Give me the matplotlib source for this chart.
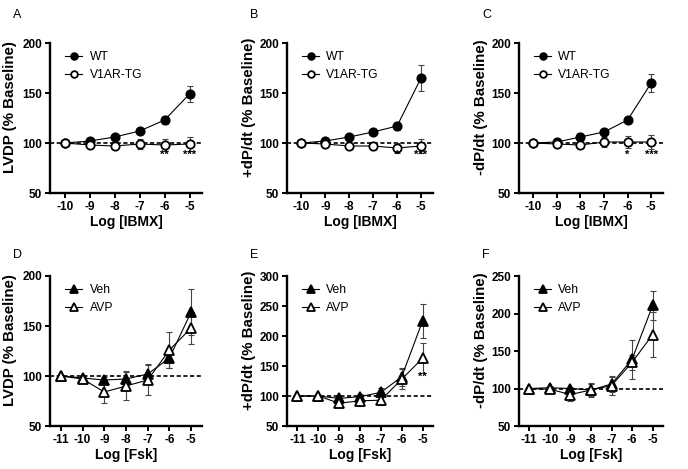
import matplotlib
matplotlib.use("Agg")
import matplotlib.pyplot as plt

plt.rcParams['font.family'] = ['Liberation Sans', 'DejaVu Sans']

# ---- data ----
x_ibmx = [-10, -9, -8, -7, -6, -5]
x_fsk = [-11, -10, -9, -8, -7, -6, -5]

# Panel A: LVDP
a_wt = [100, 102, 106, 112, 123, 149]
a_wt_err = [1, 1.5, 2, 2, 4, 8]
a_tg = [100, 98, 97, 99, 98, 99]
a_tg_err = [1, 2, 3, 5, 6, 7]
a_stars = ['', '', '', '', '**', '***']

# Panel B: +dP/dt
b_wt = [100, 102, 106, 111, 117, 165]
b_wt_err = [1, 1.5, 2, 2, 4, 13]
b_tg = [100, 99, 97, 97, 95, 97]
b_tg_err = [1, 2, 3, 4, 5, 7]
b_stars = ['', '', '', '', '*', '***']

# Panel C: -dP/dt
c_wt = [100, 101, 106, 111, 123, 160]
c_wt_err = [1, 3, 4, 2, 3, 9]
c_tg = [100, 99, 98, 101, 101, 101]
c_tg_err = [1, 2, 3, 5, 6, 7]
c_stars = ['', '', '', '', '*', '***']

# Panel D: LVDP (Fsk)
d_veh = [100, 98, 96, 97, 102, 118, 164]
d_veh_err = [1, 1, 3, 8, 10, 10, 23]
d_avp = [100, 97, 84, 90, 96, 126, 148]
d_avp_err = [1, 2, 11, 14, 15, 18, 16]

# Panel E: +dP/dt (Fsk)
e_veh = [100, 100, 96, 99, 106, 132, 225]
e_veh_err = [1, 2, 3, 4, 8, 15, 28]
e_avp = [100, 100, 88, 92, 93, 128, 163]
e_avp_err = [1, 2, 4, 8, 8, 17, 25]
e_stars = ['', '', '', '', '', '', '**']

# Panel F: -dP/dt (Fsk)
f_veh = [100, 101, 100, 98, 106, 139, 211]
f_veh_err = [1, 2, 2, 9, 10, 26, 19]
f_avp = [100, 99, 92, 98, 104, 135, 172]
f_avp_err = [1, 2, 8, 8, 13, 10, 30]

W, H = 688, 469
fig = plt.figure(figsize=(W / 100, H / 100), dpi=100)


def make_ax(left, top, right, bottom):
    return fig.add_axes([left / W, 1 - bottom / H, (right - left) / W, (bottom - top) / H])


def style(ax, xlim, ylim, yticks, xticks, ylabel, xlabel):
    ax.set_xlim(*xlim)
    ax.set_ylim(*ylim)
    ax.set_yticks(yticks)
    ax.set_xticks(xticks)
    ax.set_xticklabels([str(v) for v in xticks])
    for s in ['top', 'right']:
        ax.spines[s].set_visible(False)
    for s in ['left', 'bottom']:
        ax.spines[s].set_linewidth(1.7)
    ax.tick_params(direction='out', length=3.5, width=1.4, labelsize=8.5, pad=2)
    for lab in ax.get_xticklabels() + ax.get_yticklabels():
        lab.set_fontweight('bold')
    ax.set_ylabel(ylabel, fontsize=10.8, fontweight='bold')
    ax.yaxis.set_label_coords(-0.215, 0.57)
    ax.set_xlabel(xlabel, fontsize=10, fontweight='bold', labelpad=2)
    ax.axhline(100, color='black', lw=1.2, ls=(0, (2.5, 1.5)), zorder=1)


def series(ax, x, y, err, marker, filled, label):
    ax.errorbar(x, y, yerr=err, fmt='none', ecolor='#444444', elinewidth=0.8,
                capsize=2, capthick=0.8, zorder=2)
    ax.plot(x, y, color='black', lw=0.8, marker=marker, ms=6 if marker == 'o' else 6.5,
            mfc='black' if filled else 'white', mec='black', mew=1.3, label=label, zorder=3)


def stars(ax, x, labels, ypos):
    for xi, s, yp in zip(x, labels, ypos):
        if s:
            ax.text(xi, yp, s, ha='center', va='center', fontsize=8, fontweight='bold')


def legend(ax):
    ax.legend(loc='upper left', bbox_to_anchor=(0.03, 1.02), frameon=False, fontsize=8.7,
              handlelength=1.4, handletextpad=0.6, markerscale=0.8, labelspacing=0.5)


cols = [(50, 202), (287, 433), (519, 663)]

# Top row
tops = [
    (a_wt, a_wt_err, a_tg, a_tg_err, a_stars, 'LVDP (% Baseline)', 'A'),
    (b_wt, b_wt_err, b_tg, b_tg_err, b_stars, '+dP/dt (% Baseline)', 'B'),
    (c_wt, c_wt_err, c_tg, c_tg_err, c_stars, '-dP/dt (% Baseline)', 'C'),
]
for (l, r), (wt, wte, tg, tge, st, yl, pl) in zip(cols, tops):
    ax = make_ax(l, 43, r, 193)
    style(ax, (-10.6, -4.5), (50, 200), [50, 100, 150, 200], x_ibmx, yl, 'Log [IBMX]')
    series(ax, x_ibmx, wt, wte, 'o', True, 'WT')
    series(ax, x_ibmx, tg, tge, 'o', False, 'V1AR-TG')
    stars(ax, x_ibmx, st, [88] * len(x_ibmx))
    legend(ax)
    fig.text((l - 37) / W, 1 - 15 / H, pl, fontsize=9, ha='left', va='center')

# Bottom row
bots = [
    (d_veh, d_veh_err, d_avp, d_avp_err, None, 'LVDP (% Baseline)', 'D', (50, 200), [50, 100, 150, 200]),
    (e_veh, e_veh_err, e_avp, e_avp_err, e_stars, '+dP/dt (% Baseline)', 'E', (50, 300), [50, 100, 150, 200, 250, 300]),
    (f_veh, f_veh_err, f_avp, f_avp_err, None, '-dP/dt (% Baseline)', 'F', (50, 250), [50, 100, 150, 200, 250]),
]
for (l, r), (veh, vehe, avp, avpe, st, yl, pl, ylim, yt) in zip(cols, bots):
    ax = make_ax(l, 276, r, 426)
    style(ax, (-11.5, -4.5), ylim, yt, x_fsk, yl, 'Log [Fsk]')
    series(ax, x_fsk, veh, vehe, '^', True, 'Veh')
    series(ax, x_fsk, avp, avpe, '^', False, 'AVP')
    if st:
        stars(ax, x_fsk, st, [132] * len(x_fsk))
    legend(ax)
    fig.text((l - 37) / W, 1 - 255 / H, pl, fontsize=9, ha='left', va='center')

fig.savefig('out.png', dpi=100)
